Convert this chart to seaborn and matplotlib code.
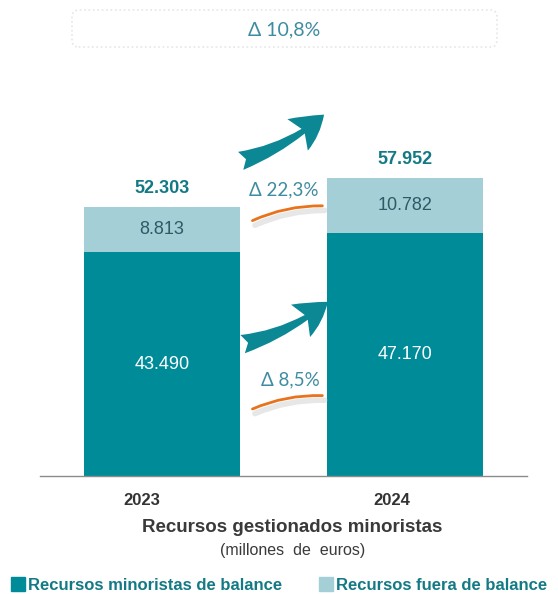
import matplotlib
matplotlib.use("Agg")
import matplotlib.pyplot as plt
import matplotlib.transforms as mtransforms
from matplotlib.patches import FancyBboxPatch, FancyArrowPatch
from matplotlib.lines import Line2D
import seaborn as sns

# data (millones de euros)
years = ["2023", "2024"]
balance = [43490, 47170]      # Recursos minoristas de balance
fuera = [8813, 10782]         # Recursos fuera de balance
total = [52303, 57952]

DARK = "#008B99"
LIGHT = "#A5CFD7"
TXT_TEAL = "#137A85"
TXT_SLATE = "#2E5A66"
DELTA = "#3E8CA2"
ORANGE = "#E8731C"
FONT = ["Liberation Sans", "DejaVu Sans"]


def fmt(v):
    return f"{v:,}".replace(",", ".")


def pct(a, b):
    return f"\u0394 {(b / a - 1) * 100:.1f}%".replace(".", ",")


sns.set_style("white")
plt.rcParams["font.family"] = FONT

fig = plt.figure(figsize=(5.58, 5.94), dpi=100)
ax = fig.add_axes([0.0717, 0.1987, 0.8728, 0.7795])

sns.barplot(x=years, y=total, color=LIGHT, saturation=1, width=0.64, linewidth=0, ax=ax)
sns.barplot(x=years, y=balance, color=DARK, saturation=1, width=0.64, linewidth=0, ax=ax)

ax.set_xlim(-0.5, 1.5)
ax.set_ylim(0, 90000)
ax.set_yticks([])
ax.set_ylabel("")
sns.despine(ax=ax, left=True)
ax.spines["bottom"].set_color("#8C8C8C")
ax.spines["bottom"].set_linewidth(1.0)
ax.spines["bottom"].set_zorder(5)
ax.tick_params(axis="x", length=0, pad=12)
# year labels sit a little left of the bar centres in the original
for lab, dx in zip(ax.get_xticklabels(), [-20, -13]):
    lab.set_fontweight("bold")
    lab.set_fontsize(12)
    lab.set_color("#333333")
    lab.set_transform(lab.get_transform() +
                      mtransforms.ScaledTranslation(dx / 100, 0, fig.dpi_scale_trans))

for i in range(len(years)):
    ax.text(i, balance[i] / 2, fmt(balance[i]), ha="center", va="center",
            color="white", fontsize=13)
    ax.text(i, balance[i] + fuera[i] / 2, fmt(fuera[i]), ha="center", va="center",
            color=TXT_SLATE, fontsize=13)
    ax.text(i, total[i] + 2000, fmt(total[i]), ha="center", va="bottom",
            color=TXT_TEAL, fontsize=13, fontweight="bold")

# growth labels between bars
ax.text(0.5, 55600, pct(fuera[0], fuera[1]), ha="center", va="center",
        color=DELTA, fontsize=13.5, family="Lato")
ax.text(0.527, 18700, pct(balance[0], balance[1]), ha="center", va="center",
        color=DELTA, fontsize=13.5, family="Lato")

# orange swooshes with soft shadow
for (x0, y0, x1, y1) in [(0.362, 49400, 0.671, 52500), (0.362, 12800, 0.671, 15600)]:
    sh = FancyArrowPatch((x0 + 0.01, y0 - 900), (x1 + 0.01, y1 - 900),
                         arrowstyle="-", connectionstyle="arc3,rad=-0.12",
                         color="#C4C4C4", lw=4, alpha=0.4, zorder=3)
    ax.add_patch(sh)
    ln = FancyArrowPatch((x0, y0), (x1, y1), arrowstyle="-",
                         connectionstyle="arc3,rad=-0.12", color=ORANGE,
                         lw=2.0, zorder=4, capstyle="round")
    ax.add_patch(ln)

# teal arrows
for (x0, y0, x1, y1) in [(0.313, 61100, 0.675, 70600), (0.321, 25500, 0.691, 34200)]:
    ar = FancyArrowPatch((x0, y0), (x1, y1),
                         arrowstyle="fancy,head_length=0.8,head_width=0.9,tail_width=0.45",
                         connectionstyle="arc3,rad=0.12", mutation_scale=30,
                         color="#0C8794", lw=0, zorder=4)
    ax.add_patch(ar)

# total growth box
box = FancyBboxPatch((72 / 558, 1 - 47 / 594), 425 / 558, 37 / 594,
                     boxstyle="round,pad=0,rounding_size=0.012",
                     transform=fig.transFigure, facecolor="white",
                     edgecolor="#E6E6E6", linestyle=":", lw=1.2)
fig.patches.append(box)
fig.text(284 / 558, 1 - 30 / 594, pct(total[0], total[1]), ha="center", va="center",
         color=DELTA, fontsize=14, family="Lato")

fig.text(0.524, 1 - 527 / 594, "Recursos gestionados minoristas", ha="center",
         va="center", fontsize=13.5, fontweight="bold", color="#3A3A3A")
fig.text(0.524, 1 - 551 / 594, "(millones  de  euros)", ha="center", va="center",
         fontsize=11.5, color="#3A3A3A")

handles = [Line2D([], [], marker="s", ls="", color=DARK, markersize=10),
           Line2D([], [], marker="s", ls="", color=LIGHT, markersize=10)]
fig.legend(handles, ["Recursos minoristas de balance", "Recursos fuera de balance"],
           loc="center", bbox_to_anchor=(0.5, 1 - 585 / 594), ncol=2, frameon=False,
           handletextpad=0.2, columnspacing=2.2, handlelength=0.8,
           borderpad=0, borderaxespad=0,
           prop={"weight": "bold", "size": 12, "family": FONT},
           labelcolor=TXT_TEAL)

fig.savefig("out.png", dpi=100)
